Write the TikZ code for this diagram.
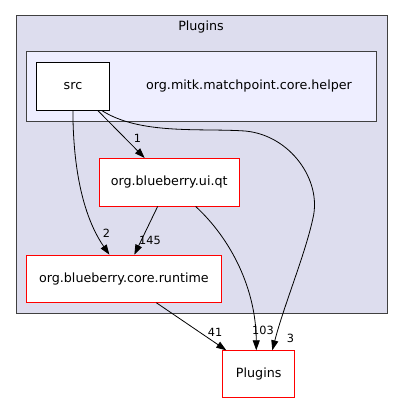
\documentclass[tikz,border=0pt]{standalone}
\usepackage{fontspec}
\setmainfont{DejaVu Sans}
\usetikzlibrary{arrows.meta,calc}
\definecolor{outerfill}{HTML}{DDDDEE}
\definecolor{innerfill}{HTML}{EEEEFF}
\definecolor{clusterline}{HTML}{404040}
\tikzset{
  cluster/.style={draw=clusterline, line width=1pt},
  dirbox/.style={draw=red, fill=white, line width=0.8pt, rectangle, inner sep=0pt, font=\fontsize{12.7}{14}\selectfont},
  srcbox/.style={draw=black, fill=white, line width=0.8pt, rectangle, inner sep=0pt, font=\fontsize{12.7}{14}\selectfont},
  dep/.style={draw=black, line width=0.8pt, -{Triangle[length=10pt,width=7pt]}},
  elabel/.style={font=\fontsize{11.3}{13}\selectfont, inner sep=0pt},
}
\begin{document}
\begin{tikzpicture}[x=1pt,y=-1pt]
\useasboundingbox (0,0) rectangle (403,404);
\fill[white] (0,0) rectangle (403,404);
% clusters
\draw[cluster, fill=outerfill] (16,16) rectangle (387,313);
\node[font=\fontsize{12.7}{14}\selectfont] (outerlabel) at (201,27) {Plugins};
\draw[cluster, fill=innerfill] (26.7,51.7) rectangle (376.7,121.7);
\node[font=\fontsize{12.7}{14}\selectfont] (innerlabel) at (249,86) {org.mitk.matchpoint.core.helper};
% nodes
\node[srcbox, minimum width=72.6pt, minimum height=47.7pt] (src) at (73,86.2) {src};
\node[dirbox, minimum width=140.3pt, minimum height=47.7pt] (uiqt) at (169.2,182.2) {org.blueberry.ui.qt};
\node[dirbox, minimum width=194.3pt, minimum height=47.3pt] (runtime) at (123.9,278.7) {org.blueberry.core.runtime};
\node[dirbox, minimum width=72pt, minimum height=47pt] (plugins) at (258.7,374.2) {Plugins};
% edges
\draw[dep] ($(src.south east)+(-12,0)$) -- ($(uiqt.north west)+(46,0)$);
\draw[dep] ($(src.south west)+(36.6,0)$) .. controls (73,165) and (82,215) .. ($(runtime.north west)+(83,0)$);
\draw[dep] ($(src.south east)+(-8,0)$) .. controls (140,135) and (200,128) .. (245,131)
  .. controls (290,135) and (322,180) .. (313,218)
  .. controls (305,255) and (284,305) .. ($(plugins.north west)+(50,0)$);
\draw[dep] ($(uiqt.south west)+(59,0)$) -- ($(runtime.north west)+(108,0)$);
\draw[dep] ($(uiqt.south west)+(97,0)$) .. controls (232,240) and (256,290) .. ($(plugins.north west)+(34,0)$);
\draw[dep] ($(runtime.south west)+(130,0)$) -- ($(plugins.north west)+(4,0)$);
% edge labels
\node[elabel] (l1) at (137.5,138.5) {1};
\node[elabel] (l2) at (106.5,233) {2};
\node[elabel] (l145) at (150,240.5) {145};
\node[elabel] (l41) at (215,332) {41};
\node[elabel] (l103) at (263,330.5) {103};
\node[elabel] (l3) at (290.5,338) {3};
\end{tikzpicture}
\end{document}
